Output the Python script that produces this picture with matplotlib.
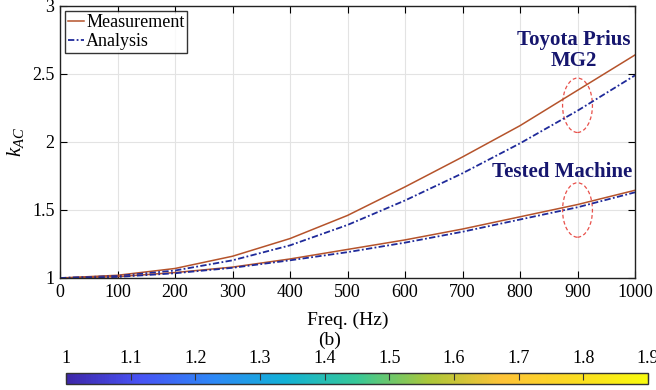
import matplotlib
matplotlib.use("Agg")
import matplotlib.pyplot as plt
import numpy as np
from matplotlib.colors import LinearSegmentedColormap, Normalize
from matplotlib.cm import ScalarMappable
from matplotlib.patches import Ellipse

plt.rcParams['font.family'] = ['Liberation Serif', 'DejaVu Serif']
plt.rcParams['mathtext.fontset'] = 'custom'
plt.rcParams['mathtext.it'] = 'Liberation Serif:italic'
plt.rcParams['mathtext.rm'] = 'Liberation Serif'

freq = [0, 100, 200, 300, 400, 500, 600, 700, 800, 900, 1000]
prius_meas = [1.0, 1.02, 1.07, 1.16, 1.29, 1.46, 1.67, 1.89, 2.12, 2.38, 2.64]
prius_anal = [1.0, 1.015, 1.055, 1.13, 1.24, 1.39, 1.57, 1.77, 1.99, 2.23, 2.49]
tested_meas = [1.0, 1.01, 1.04, 1.08, 1.14, 1.21, 1.28, 1.36, 1.45, 1.54, 1.645]
tested_anal = [1.0, 1.008, 1.035, 1.075, 1.13, 1.19, 1.26, 1.34, 1.43, 1.52, 1.63]

xticks = [0, 100, 200, 300, 400, 500, 600, 700, 800, 900, 1000]
yticks = [1, 1.5, 2, 2.5, 3]
cbar_ticks = [1, 1.1, 1.2, 1.3, 1.4, 1.5, 1.6, 1.7, 1.8, 1.9]

meas_color = '#B5532B'
anal_color = '#1F2A9A'

fig = plt.figure(figsize=(6.56, 3.9), dpi=100)
ax = fig.add_axes([60/656, (390-278)/390, 575/656, 272/390])

ax.plot(freq, prius_meas, color=meas_color, lw=1.1, label='Measurement')
ax.plot(freq, prius_anal, color=anal_color, lw=1.3, ls=(0, (3.5, 1.3, 1, 1.3)), label='Analysis')
ax.plot(freq, tested_meas, color=meas_color, lw=1.1)
ax.plot(freq, tested_anal, color=anal_color, lw=1.3, ls=(0, (3.5, 1.3, 1, 1.3)))

ax.set_xlim(0, 1000)
ax.set_ylim(1, 3)
ax.set_xticks(xticks)
ax.set_yticks(yticks)
ax.set_yticklabels(['1', '1.5', '2', '2.5', '3'])
ax.grid(True, color='#e3e3e3', lw=0.8)
ax.set_axisbelow(True)
ax.tick_params(direction='in', top=True, right=True, labelsize=13, length=5, pad=4)
for s in ax.spines.values():
    s.set_linewidth(1.0)
    s.set_color('#222222')

ax.set_xlabel('Freq. (Hz)', fontsize=14, labelpad=8)
ax.set_ylabel(r'$k_{AC}$', fontsize=15, labelpad=4)

leg = ax.legend(loc='upper left', fontsize=13, frameon=True, fancybox=False,
                edgecolor='black', handlelength=0.9, handletextpad=0.1,
                borderpad=0.15, labelspacing=0.1, borderaxespad=0.3)
leg.get_frame().set_linewidth(1.0)

ax.add_patch(Ellipse((900, 2.27), 52, 0.40, fill=False, ec='#E8504A', ls=(0, (3, 2)), lw=0.9))
ax.add_patch(Ellipse((900, 1.50), 52, 0.40, fill=False, ec='#E8504A', ls=(0, (3, 2)), lw=0.9))

ax.text(893, 2.67, 'Toyota Prius\nMG2', color='#16166E', fontsize=15, fontweight='bold',
        ha='center', va='center', linespacing=1.08)
ax.text(873, 1.78, 'Tested Machine', color='#16166E', fontsize=15, fontweight='bold',
        ha='center', va='center')

fig.text(330/656, 1 - 340/390, '(b)', fontsize=14, ha='center', va='center')

parula_pts = [
    (0.2422, 0.1504, 0.6603),
    (0.2810, 0.3228, 0.9578),
    (0.1786, 0.5289, 0.9682),
    (0.0689, 0.6948, 0.8394),
    (0.2161, 0.7843, 0.5923),
    (0.6720, 0.7793, 0.2227),
    (0.9970, 0.7659, 0.2199),
    (0.9856, 0.8620, 0.1328),
    (0.9763, 0.9831, 0.0538),
]
cmap = LinearSegmentedColormap.from_list('parula', parula_pts, N=256)

cax = fig.add_axes([66/656, (390-384)/390, 582/656, 11/390])
sm = ScalarMappable(norm=Normalize(1, 1.9), cmap=cmap)
cb = fig.colorbar(sm, cax=cax, orientation='horizontal')
cb.set_ticks(cbar_ticks)
cb.set_ticklabels(['1', '1.1', '1.2', '1.3', '1.4', '1.5', '1.6', '1.7', '1.8', '1.9'])
cax.xaxis.set_ticks_position('top')
cax.xaxis.set_label_position('top')
cax.tick_params(direction='in', length=5, labelsize=13, pad=4, color='#333333')
cb.outline.set_linewidth(1.0)
cb.outline.set_edgecolor('#333333')

fig.savefig('out.png', dpi=100)
